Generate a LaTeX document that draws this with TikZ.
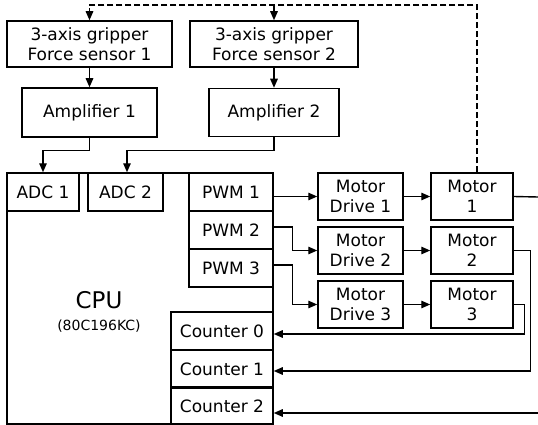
\documentclass[tikz,border=0pt]{standalone}
\usepackage{fontspec}
\setmainfont{DejaVu Sans}
\usetikzlibrary{arrows.meta}
\begin{document}
\begin{tikzpicture}[x=1pt,y=-1pt,
    blk/.style={draw,line width=1.5pt,align=center,inner sep=0pt,
      font=\fontsize{17}{20}\selectfont},
    port/.style={blk,minimum height=38},
    arr/.style={line width=1.4pt,-{Triangle[length=9pt,width=7.5pt]}},
    wire/.style={line width=1.4pt},
    fb/.style={arr,dash pattern=on 6pt off 3pt}]
  \useasboundingbox (0,0) rectangle (538,425);

  % sensors and amplifiers
  \node[blk,minimum width=165,minimum height=46] (s1) at (89.5,44) {3-axis gripper\\Force sensor 1};
  \node[blk,minimum width=168,minimum height=46] (s2) at (274,44) {3-axis gripper\\Force sensor 2};
  \node[blk,minimum width=135,minimum height=49] (a1) at (89.5,112.5) {Amplifier 1};
  \node[blk,minimum width=130,minimum height=48] (a2) at (274,112.5) {Amplifier 2};

  % CPU and its ports
  \node[blk,minimum width=266,minimum height=251] (cpu) at (140,298.5) {};
  \node[font=\fontsize{23}{26}\selectfont] (cpuname) at (99,300) {CPU};
  \node[font=\fontsize{14}{16}\selectfont] (cputype) at (99,326) {(80C196KC)};
  \node[port,minimum width=72] (adc1) at (43,192) {ADC 1};
  \node[port,minimum width=75] (adc2) at (125.5,192) {ADC 2};
  \foreach \n/\y in {1/192,2/230,3/268}{
    \node[port,minimum width=84] (pwm\n) at (231,\y) {PWM \n};
  }
  \foreach \n/\y in {0/331,1/369,2/406}{
    \node[port,minimum width=102] (cnt\n) at (222,\y) {Counter \n};
  }

  % motor drives and motors
  \foreach \n/\y in {1/196.5,2/250.5,3/304.5}{
    \node[blk,minimum width=85,minimum height=47] (md\n) at (360.5,\y) {Motor\\Drive \n};
    \node[blk,minimum width=82,minimum height=47] (m\n) at (472,\y) {Motor\\\n};
    \draw[arr] (md\n) -- (m\n);
  }

  \coordinate (top) at (0,5);
  \coordinate (edge1) at (538,197);
  \coordinate (edge2) at (538,413);

  % signal paths
  \draw[arr] (s1) -- (a1);
  \draw[arr] (s2) -- (a2);
  \draw[arr] (a1.south) -- ++(0,13) -| (adc1.north);
  \draw[arr] (a2.south) -- ++(0,13.5) -| ([xshift=1.5pt]adc2.north);
  \draw[arr] (pwm1.east |- md1.west) -- (md1.west);
  \draw[arr] ([yshift=3pt]pwm2.east) -- ++(19,0) |- (md2.west);
  \draw[arr] ([yshift=3pt]pwm3.east) -- ++(19,0) |- (md3.west);

  % feedback
  \draw[wire] (m1.east) -- (edge1);
  \draw[arr] (m2.east) -- ++(17,0) |- ([yshift=-2pt]cnt1.east);
  \draw[arr] (m3.east) -- ++(10.5,0) |- ([yshift=-3pt]cnt0.east);
  \draw[arr] (edge2) -- (edge2 -| cnt2.east);
  \draw[fb] ([xshift=5pt]m1.north) -- ([xshift=5pt]m1.north |- top) -- (s1.north |- top) -- (s1.north);
  \draw[fb] (s2.north |- top) -- (s2.north);
\end{tikzpicture}
\end{document}
